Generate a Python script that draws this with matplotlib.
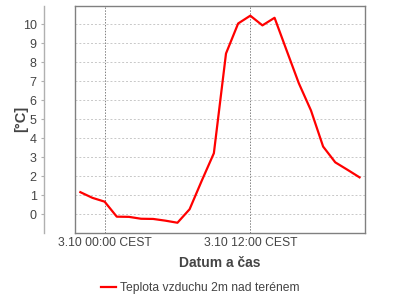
import matplotlib.pyplot as plt
from matplotlib.lines import Line2D

# hours relative to 3.10 00:00 CEST
hours = [-2, -1, 0, 1, 2, 3, 4, 5, 6, 7, 8, 9, 10, 11, 12, 13, 14, 15, 16, 17, 18, 19, 20, 21]
temps = [1.15, 0.85, 0.65, -0.14, -0.15, -0.25, -0.26, -0.35, -0.46, 0.25, 1.75, 3.2,
         8.45, 10.03, 10.44, 9.93, 10.33, 8.6, 6.88, 5.45, 3.55, 2.72, 2.33, 1.93]
xtick_pos = [0, 12]
xtick_labels = ['3.10 00:00 CEST', '3.10 12:00 CEST']
yticks = list(range(0, 11))

txt = '#444444'
plt.rcParams['font.family'] = ['Liberation Sans', 'DejaVu Sans']

fig = plt.figure(figsize=(4, 3), dpi=100)
ax = fig.add_axes([75 / 400, 1 - 233 / 300, 290 / 400, 227 / 300])

ax.plot(hours, temps, color='#ff0000', lw=1.6, label='Teplota vzduchu 2m nad terénem')
ax.set_xlim(-2.44, 21.45)
ax.set_ylim(-1.0, 10.95)

ax.set_yticks(yticks)
ax.set_xticks(xtick_pos)
ax.set_xticklabels(xtick_labels)
ax.tick_params(axis='y', length=2.5, width=0.8, color='#b0b0b0', pad=3,
               labelsize=9, labelcolor=txt)
ax.tick_params(axis='x', length=0, pad=3, labelsize=8.7, labelcolor=txt)

ax.grid(axis='y', color='#c8c8c8', ls=(0, (2, 2)), lw=0.7)
ax.grid(axis='x', color='#808080', ls=(0, (1.5, 1.5)), lw=0.7)
for s in ax.spines.values():
    s.set_color('#808080')
    s.set_linewidth(1)

# y axis drawn apart from the plot box
ax.spines['left'].set_position(('outward', 22))
ax.spines['left'].set_color('#b0b0b0')
ax.add_artist(Line2D([0, 0], [0, 1], transform=ax.transAxes, color='#808080',
                     lw=1, clip_on=False))

ax.set_xlabel('Datum a čas', fontsize=10, fontweight='bold', color=txt, labelpad=5)
fig.text(21 / 400, 1 - 119 / 300, '[°C]', rotation=90, fontsize=10.5, fontweight='bold',
         color=txt, ha='center', va='center')

fig.legend(loc='center', bbox_to_anchor=(200 / 400, 1 - 288 / 300), frameon=False,
           fontsize=8.7, labelcolor=txt, handlelength=1.3, handletextpad=0.3)

fig.savefig('out.png', dpi=100)
